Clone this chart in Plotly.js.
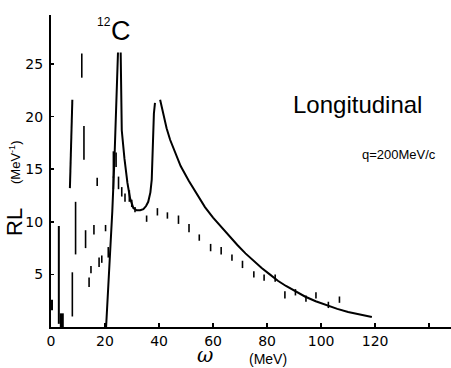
<!DOCTYPE html>
<html>
<head>
<meta charset="utf-8">
<script src="https://cdn.plot.ly/plotly-3.0.1.min.js"></script>
<style>html,body{margin:0;padding:0;background:#fff;}#chart{width:451px;height:368px;}</style>
</head>
<body>
<div id="chart"></div>
<script>
// Theory curve (solid line), omega in MeV, R_L in MeV^-1 (null = gap in the drawn curve)
const thOmega = [20.4, 21.5, 22.7, 23.5, 24.2, 24.8, null, 25.8, 26.0, 26.2, 27.2, 28.3, 29.3, 30.5, 31.7, 33.0, 34.2, 35.2, 36.0, 36.8, 37.3, 37.6, 37.8, 38.1, 38.5, null,
                 40.4, 41.5, 42.8, 44.1, 46, 48, 51, 54, 57, 60, 63, 66, 69, 72, 75, 78, 81, 84, 87, 90, 94, 98, 102, 106, 110, 114, 118.8];
const thRL    = [0, 5, 11, 16, 21, 26.1, null, 26.1, 22.5, 18.7, 16.0, 13.7, 12.2, 11.3, 11.1, 11.1, 11.2, 11.5, 11.9, 12.8, 14.0, 16.5, 18.8, 20.3, 21.3, null,
                 21.6, 20.2, 18.9, 17.8, 16.5, 15.3, 13.9, 12.6, 11.4, 10.4, 9.5, 8.6, 7.8, 7.0, 6.3, 5.6, 5.0, 4.4, 3.9, 3.45, 2.9, 2.45, 2.05, 1.72, 1.43, 1.2, 0.95];

// Experimental points (centre and half-length of the error bar)
const expOmega = [11.4, 12.2, 17.1, 7.9, 9.1, 12.8, 15.9, 20.2, 14.1, 14.8, 17.8, 18.8, 21.2, 23.1, 24.1, 23.1, 25.0, 26.2, 27.4, 29.0, 29.9, 31.1, 35.4, 39.4, 43.1, 47.2, 51.1, 54.9, 59.1, 63.0, 67.0, 70.9, 75.1, 78.9, 83.0, 86.6, 90.5, 94.4, 98.1, 102.7, 106.8];
const expRL    = [24.85, 17.5, 13.8, 3.1, 9.4, 8.35, 9.25, 9.4, 4.25, 5.45, 6.15, 6.45, 7.1, 15.45, 15.9, 13.7, 13.7, 12.85, 12.3, 12.45, 11.75, 11.15, 10.3, 10.95, 10.6, 10.2, 9.4, 8.5, 7.55, 7.25, 6.6, 5.95, 5.0, 4.7, 4.65, 3.05, 3.3, 2.7, 3.0, 2.1, 2.6];
const expErr   = [1.15, 1.6, 0.4, 2.1, 2.5, 0.85, 0.45, 0.3, 0.45, 0.35, 0.45, 0.35, 0.5, 1.25, 0.7, 0.6, 0.6, 0.45, 0.4, 0.55, 0.35, 0.25, 0.3, 0.35, 0.3, 0.4, 0.4, 0.3, 0.35, 0.35, 0.3, 0.35, 0.3, 0.3, 0.35, 0.35, 0.3, 0.3, 0.3, 0.3, 0.3];

// Low-energy discrete strengths drawn as vertical strokes
const lowOmega = [2.9, 2.9, null, 7.9, 7.0];
const lowRL    = [0.3, 9.6, null, 21.6, 13.2];
const blobOmega = [0.0, 4.0];
const blobRL    = [2.1, -0.3];
const blobErr   = [0.5, 1.6];

const xTicks = [0, 20, 40, 60, 80, 100, 120, 140];
const xTickText = ['0', '20', '40', '60', '80', '100', '120', ' '];
const yTicks = [5, 10, 15, 20, 25];

const L = 51, T = 15, W = 400, H = 312;
const px = v => (v - L) / W;
const py = v => (T + H - v) / H;

const traces = [
  {x: thOmega, y: thRL, mode: 'lines', line: {color: '#000', width: 2}, connectgaps: false, hoverinfo: 'skip'},
  {x: lowOmega, y: lowRL, mode: 'lines', line: {color: '#000', width: 2}, connectgaps: false, hoverinfo: 'skip'},
  {x: expOmega, y: expRL, mode: 'markers', marker: {size: 1, color: 'rgba(0,0,0,0)'},
   error_y: {type: 'data', array: expErr, visible: true, color: '#000', thickness: 1.6, width: 0}},
  {x: blobOmega, y: blobRL, mode: 'markers', marker: {size: 1, color: 'rgba(0,0,0,0)'}, cliponaxis: false,
   error_y: {type: 'data', array: blobErr, visible: true, color: '#000', thickness: 4, width: 0}}
];

function ann(text, x, y, family, size, extra) {
  return Object.assign({text: text, xref: 'paper', yref: 'paper', x: px(x), y: py(y),
    xanchor: 'center', yanchor: 'middle', showarrow: false,
    font: {family: family, size: size, color: '#000'}}, extra || {});
}

const tf = {family: 'DejaVu Sans', size: 14, color: '#000'};
const layout = {
  width: 451, height: 368, autosize: false,
  margin: {l: L, r: 0, t: T, b: 41, pad: 0},
  paper_bgcolor: '#fff', plot_bgcolor: '#fff',
  showlegend: false,
  xaxis: {range: [0, 148.1], showgrid: false, zeroline: false, showline: true, linecolor: '#000', linewidth: 2,
          tickmode: 'array', tickvals: xTicks, ticktext: xTickText, ticks: 'inside', ticklen: 4, tickwidth: 1.5, tickcolor: '#000',
          tickfont: tf, fixedrange: true},
  yaxis: {range: [0, 29.66], showgrid: false, zeroline: false, showline: true, linecolor: '#000', linewidth: 2,
          tickmode: 'array', tickvals: yTicks, ticks: 'inside', ticklen: 3, tickwidth: 1.5, tickcolor: '#000',
          tickfont: tf, ticklabelstandoff: 3, fixedrange: true},
  annotations: [
    ann('12', 104, 22, 'Liberation Sans', 12),
    ann('C', 121, 31, 'Liberation Sans', 27),
    ann('Longitudinal', 357, 104, 'Liberation Sans', 24),
    ann('q=200MeV/c', 399, 154, 'Liberation Sans', 13),
    ann('<i>ω</i>', 205, 355, 'DejaVu Serif', 20),
    ann('(MeV)', 268, 359, 'Liberation Sans', 14),
    ann('RL', 14, 222, 'Liberation Sans', 22, {textangle: -90}),
    ann('(MeV<sup>-1</sup>)', 15, 162, 'Liberation Sans', 13, {textangle: -90})
  ]
};

Plotly.newPlot('chart', traces, layout, {displayModeBar: false, staticPlot: true});
</script>
</body>
</html>
